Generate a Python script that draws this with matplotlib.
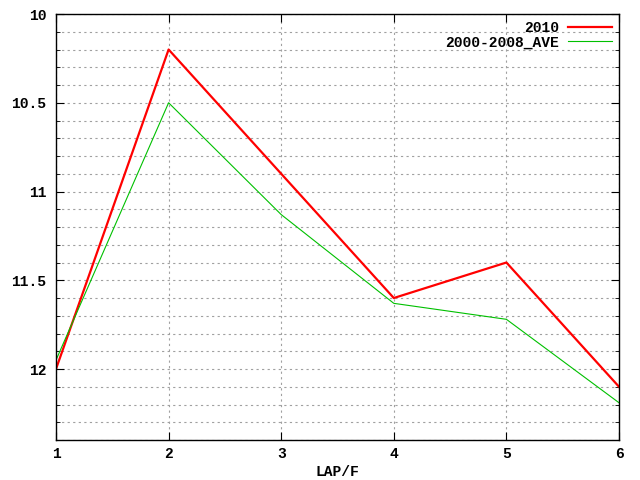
import matplotlib
matplotlib.use('Agg')
import matplotlib.pyplot as plt
from matplotlib.ticker import MultipleLocator, FormatStrFormatter

# data
laps = [1, 2, 3, 4, 5, 6]
y2010 = [12.0, 10.2, 10.9, 11.6, 11.4, 12.1]
y_ave = [11.95, 10.5, 11.13, 11.63, 11.72, 12.19]

plt.rcParams['font.family'] = ['Liberation Mono', 'DejaVu Sans Mono']
plt.rcParams['font.weight'] = 'bold'

fig = plt.figure(figsize=(6.4, 4.8), dpi=100)
ax = fig.add_axes([0.0875, 0.0833, 0.8797, 0.8875])

ax.plot(laps, y2010, color='#ff0000', lw=1.6, label='2010')
ax.plot(laps, y_ave, color='#00c000', lw=0.8, label='2000-2008_AVE')

ax.set_xlim(1, 6)
ax.set_ylim(12.4, 10)
ax.xaxis.set_major_locator(MultipleLocator(1))
ax.yaxis.set_major_locator(MultipleLocator(0.5))
ax.yaxis.set_minor_locator(MultipleLocator(0.1))
ax.yaxis.set_major_formatter(FormatStrFormatter('%g'))

ax.grid(which='both', axis='y', color='#a0a0a0', linestyle=(0, (2, 3)), lw=0.8)
ax.grid(which='major', axis='x', color='#a0a0a0', linestyle=(0, (2, 3)), lw=0.8)

ax.tick_params(which='both', direction='in', top=True, right=True, labelsize=10.5)
ax.tick_params(axis='y', pad=7)
ax.tick_params(axis='x', pad=5)
ax.tick_params(which='major', length=6)
ax.tick_params(which='minor', length=3)
for s in ax.spines.values():
    s.set_linewidth(1.0)

ax.set_xlabel('LAP/F', fontsize=10.5, fontweight='bold', labelpad=3)

ax.legend(loc='upper right', frameon=False, markerfirst=False, fontsize=10.5,
          handlelength=3, borderaxespad=0.1, labelspacing=0.0, handletextpad=0.6)

fig.savefig('out.png', dpi=100)
